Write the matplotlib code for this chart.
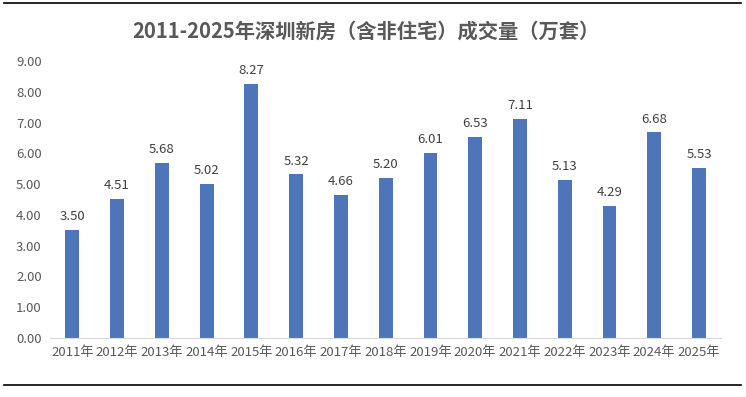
import matplotlib.pyplot as plt
from matplotlib.lines import Line2D

plt.rcParams['font.family'] = ['Noto Sans CJK SC', 'DejaVu Sans']

years = ["2011年", "2012年", "2013年", "2014年", "2015年", "2016年", "2017年", "2018年",
         "2019年", "2020年", "2021年", "2022年", "2023年", "2024年", "2025年"]
volume = [3.50, 4.51, 5.68, 5.02, 8.27, 5.32, 4.66, 5.20, 6.01, 6.53, 7.11, 5.13, 4.29, 6.68, 5.53]
yticks = [0, 1, 2, 3, 4, 5, 6, 7, 8, 9]

fig = plt.figure(figsize=(7.46, 3.97), dpi=100)
ax = fig.add_axes([0.067, 0.149, 0.90, 0.697])

x = range(len(years))
ax.bar(x, volume, width=0.31, color="#4E74B9")
for i, v in zip(x, volume):
    ax.text(i, v + 0.22, f"{v:.2f}", ha="center", va="bottom", fontsize=9.5, color="#404040")

ax.set_xlim(-0.5, len(years) - 0.5)
ax.set_ylim(0, 9)
ax.set_xticks(list(x))
ax.set_xticklabels(years, fontsize=9.5, color="#595959")
ax.set_yticks(yticks)
ax.set_yticklabels([f"{t:.2f}" for t in yticks], fontsize=9.5, color="#595959")
ax.tick_params(length=0, pad=6)
for s in ["top", "right", "left"]:
    ax.spines[s].set_visible(False)
ax.spines["bottom"].set_color("#d9d9d9")

fig.text(0.49, 0.922, "2011-2025年深圳新房（含非住宅）成交量（万套）", ha="center", va="center",
         fontsize=14.6, fontweight="bold", color="#595959")

fig.add_artist(Line2D([0.005, 0.993], [0.992, 0.992], color="black", linewidth=1.2))
fig.add_artist(Line2D([0.005, 0.993], [0.03, 0.03], color="black", linewidth=1.2))

fig.savefig("out.png", dpi=100)
